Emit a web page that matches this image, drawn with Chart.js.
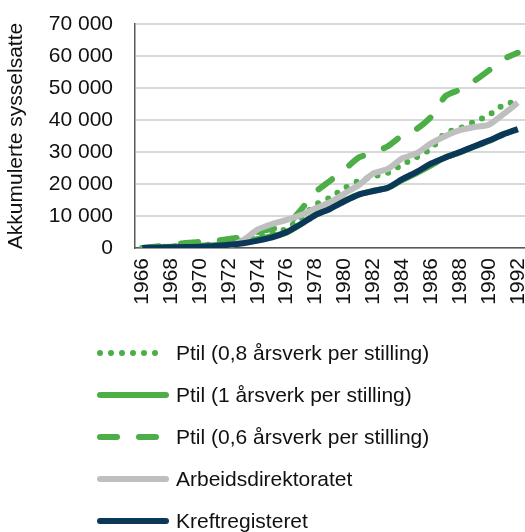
<!DOCTYPE html>
<html>
<head>
<meta charset="utf-8">
<script src="https://cdn.jsdelivr.net/npm/chart.js@4/dist/chart.umd.min.js"></script>
<style>
  html, body { margin: 0; padding: 0; background: #fff; }
  canvas { display: block; }
</style>
</head>
<body>
<canvas id="chart" width="525" height="532"></canvas>
<script>
var years = ['1966','1967','1968','1969','1970','1971','1972','1973','1974','1975','1976','1977','1978','1979',
             '1980','1981','1982','1983','1984','1985','1986','1987','1988','1989','1990','1991','1992'];

var ptil08 = [0, 250, 500, 620, 880, 1100, 1600, 2400, 3500, 4600, 6000, 9400, 13500, 15800,
              18700, 21000, 22300, 23500, 26000, 28400, 31000, 36000, 37400, 39500, 41500, 44700, 46000];
var ptil1 = [0, 200, 400, 500, 700, 900, 1300, 1900, 2800, 3700, 4800, 7500, 10600, 12500,
             14800, 16800, 17900, 18800, 21200, 23400, 25800, 28400, 29900, 31700, 33400, 35600, 37000];
var ptil06 = [0, 500, 1000, 1600, 1900, 2200, 2800, 3500, 5000, 6000, 7000, 12000, 17500, 21000,
              24500, 28300, 29800, 31800, 35200, 37200, 41000, 47500, 49500, 52200, 55500, 59000, 61000];
var arbeidsdir = [0, 0, 0, 50, 100, 300, 700, 2500, 5800, 7500, 8800, 10300, 12400, 14300,
                  17000, 19700, 23300, 24700, 28000, 29600, 32700, 35000, 36800, 37800, 38500, 41800, 45400];
var kreftreg = [0, 100, 200, 300, 400, 600, 1000, 1500, 2300, 3300, 5000, 7500, 10300, 12200,
                14600, 16700, 17800, 18800, 21500, 23800, 26400, 28300, 30000, 31800, 33600, 35500, 37200];

var seriesNames = ['Ptil (0,8 årsverk per stilling)', 'Ptil (1 årsverk per stilling)',
                   'Ptil (0,6 årsverk per stilling)', 'Arbeidsdirektoratet', 'Kreftregisteret'];

var green = '#4cae47';
var grey = '#bfbfbf';
var navy = '#0b3759';
var fontName = '"Liberation Sans", Arial, sans-serif';

// legend drawn below the plot, one entry per row
var legendBelow = {
  id: 'legendBelow',
  afterDraw: function (chart) {
    var ctx = chart.ctx;
    chart.data.datasets.forEach(function (ds, i) {
      var y = 353 + i * 42;
      ctx.save();
      ctx.strokeStyle = ds.borderColor;
      ctx.lineWidth = ds.borderWidth;
      ctx.lineCap = 'round';
      ctx.setLineDash(ds.borderDash || []);
      ctx.beginPath();
      ctx.moveTo(100, y);
      ctx.lineTo(166, y);
      ctx.stroke();
      ctx.setLineDash([]);
      ctx.fillStyle = '#111';
      ctx.font = '21px ' + fontName;
      ctx.textBaseline = 'middle';
      ctx.fillText(ds.label, 176, y + 1);
      ctx.restore();
    });
  }
};

new Chart(document.getElementById('chart'), {
  type: 'line',
  data: {
    labels: years,
    datasets: [
      { label: seriesNames[0], data: ptil08, borderColor: green, borderWidth: 6,
        borderDash: [0, 11], borderCapStyle: 'round', order: 2 },
      { label: seriesNames[1], data: ptil1, borderColor: green, borderWidth: 6, order: 4 },
      { label: seriesNames[2], data: ptil06, borderColor: green, borderWidth: 6,
        borderDash: [17, 22], borderCapStyle: 'round', order: 3 },
      { label: seriesNames[3], data: arbeidsdir, borderColor: grey, borderWidth: 6, order: 1 },
      { label: seriesNames[4], data: kreftreg, borderColor: navy, borderWidth: 6, order: 0 }
    ]
  },
  options: {
    responsive: false,
    animation: false,
    layout: { padding: { top: 24, right: 0, bottom: 226, left: 0 } },
    elements: {
      point: { radius: 0 },
      line: { tension: 0.2, fill: false, borderJoinStyle: 'round' }
    },
    plugins: { legend: { display: false }, tooltip: { enabled: false } },
    scales: {
      x: {
        offset: true,
        afterFit: function (scale) {
          scale.paddingLeft = 0;
          scale.paddingRight = 0;
          scale.height = 58;
        },
        grid: { display: false, drawTicks: false },
        border: { display: true, color: '#595959', width: 1.5 },
        ticks: {
          autoSkip: false, minRotation: 90, maxRotation: 90, padding: 10,
          color: '#111', font: { family: fontName, size: 21 },
          callback: function (val, idx) { return idx % 2 === 0 ? this.getLabelForValue(val) : ''; }
        }
      },
      y: {
        min: 0, max: 70000,
        afterFit: function (scale) {
          scale.width = 135;
          scale.paddingTop = 0;
          scale.paddingBottom = 0;
        },
        grid: { color: '#d9d9d9', lineWidth: 2, drawTicks: false },
        border: { display: true, color: '#595959', width: 1.5 },
        ticks: {
          stepSize: 10000, padding: 22, color: '#111',
          font: { family: fontName, size: 21 },
          callback: function (v) { return String(v).replace(/\B(?=(\d{3})+(?!\d))/g, ' '); }
        },
        title: {
          display: true, text: 'Akkumulerte sysselsatte', color: '#111',
          font: { family: fontName, size: 21 }, padding: { top: 4, bottom: 4 }
        }
      }
    }
  },
  plugins: [legendBelow]
});
</script>
</body>
</html>
